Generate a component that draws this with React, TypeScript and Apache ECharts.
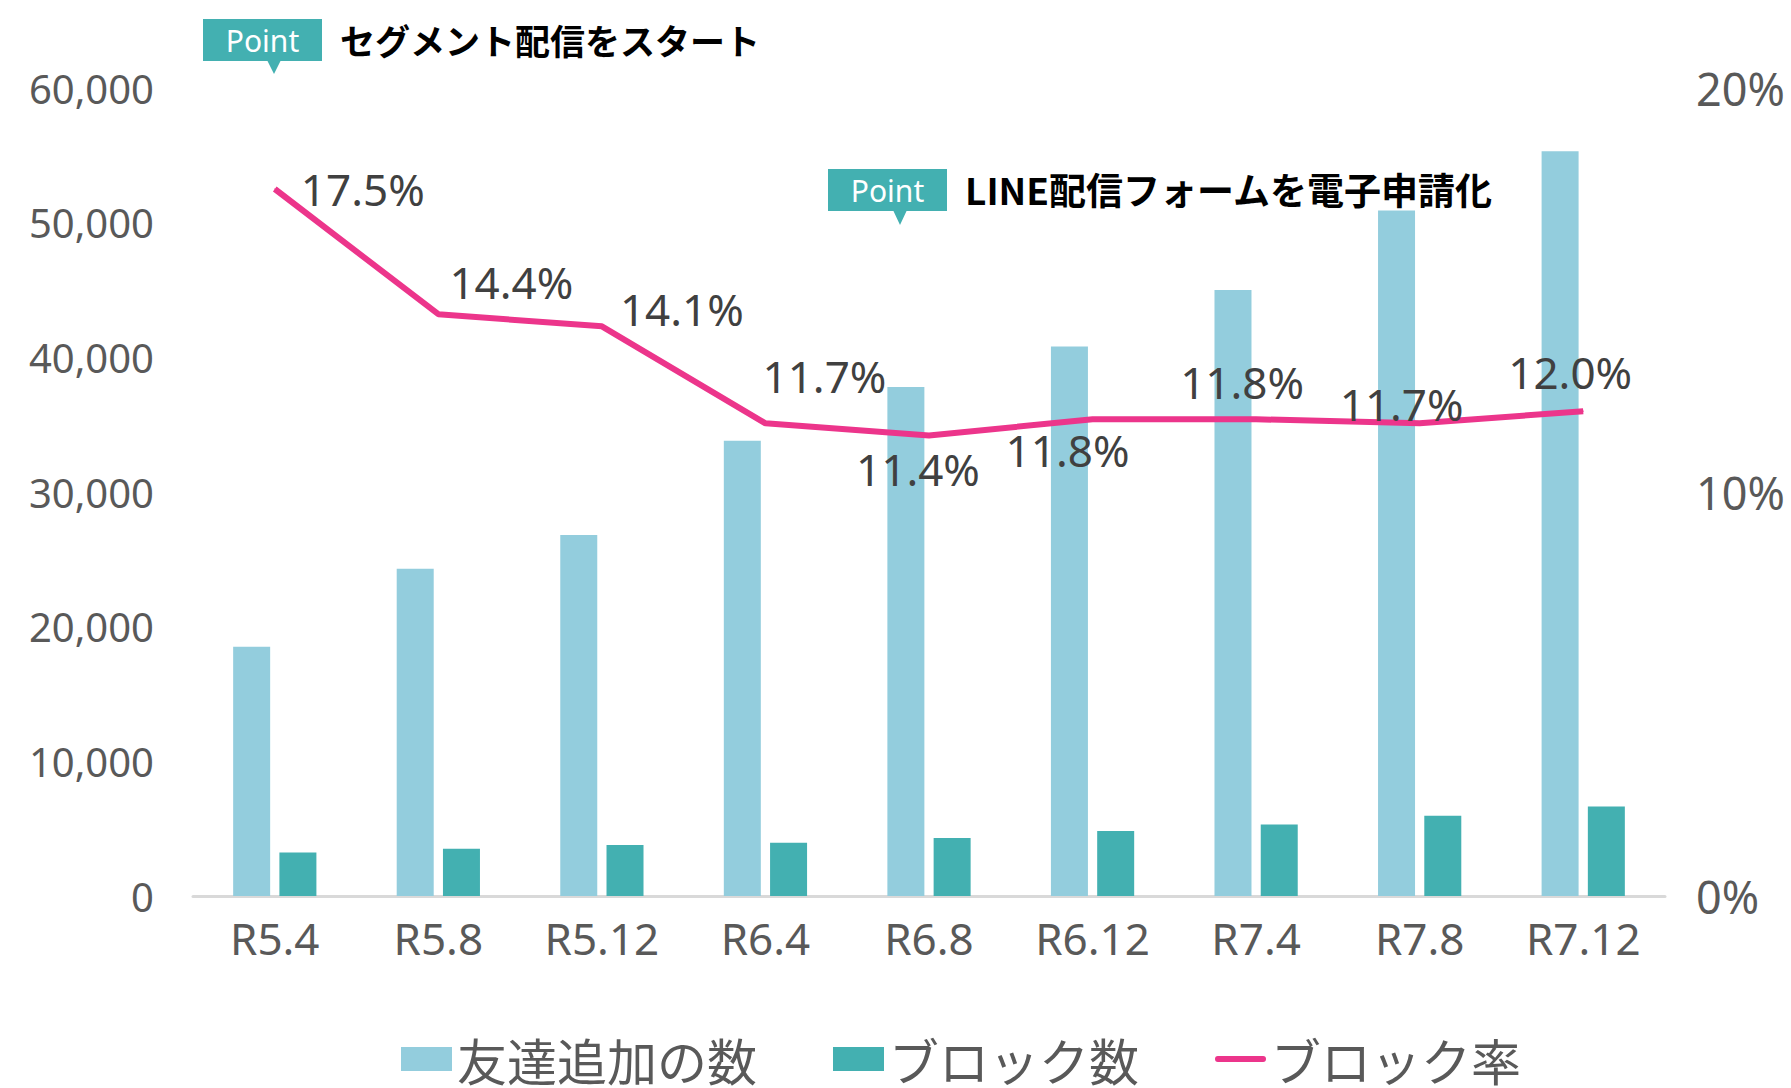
import React, { useEffect, useRef } from "react";
import * as echarts from "echarts";

const categories = ["R5.4", "R5.8", "R5.12", "R6.4", "R6.8", "R6.12", "R7.4", "R7.8", "R7.12"];
const friendsAdded = [18500, 24300, 26800, 33800, 37800, 40800, 45000, 50900, 55300];
const blocks = [3230, 3500, 3780, 3950, 4310, 4820, 5310, 5960, 6640];
const blockRate = [17.5, 14.4, 14.1, 11.7, 11.4, 11.8, 11.8, 11.7, 12.0];
const leftTicks = { min: 0, max: 60000, interval: 10000 };
const rightTicks = { min: 0, max: 20, interval: 10 };
const seriesNames = ["友達追加の数", "ブロック数", "ブロック率"];
const notes = ["セグメント配信をスタート", "LINE配信フォームを電子申請化"];

// label offsets (px) of the rate labels relative to each point
const rateLabelOffsets: [number, number][] = [
  [88, 0], [73, -32], [80, -17], [59, -47], [-11, 34], [-25, 31], [-14, -37], [-18, -19], [-13, -39],
];

const LIGHT = "#93CDDD";
const TEAL = "#43B0B1";
const PINK = "#EC358B";

function callout(x: number, y: number, tipX: number, tipY: number, title: string, size: number) {
  const w = 119, h = 42;
  return [
    { type: "rect", shape: { x, y, width: w, height: h }, style: { fill: TEAL } },
    {
      type: "polygon",
      shape: { points: [[tipX - 7, y + h - 1], [tipX + 7, y + h - 1], [tipX, tipY]] },
      style: { fill: TEAL },
    },
    {
      type: "text",
      x: x + w / 2,
      y: y + h / 2,
      style: {
        text: "Point", fill: "#fff", font: "30px 'Noto Sans'", align: "center", verticalAlign: "middle",
      },
    },
    {
      type: "text",
      x: x + w + 18,
      y: y + h / 2 - 1,
      style: {
        text: title, fill: "#000", font: `bold ${size}px 'Noto Sans CJK JP'`, align: "left", verticalAlign: "middle",
      },
    },
  ];
}

export default function App() {
  const ref = useRef<HTMLDivElement>(null);
  useEffect(() => {
    document.body.style.margin = "0";
    const chart = echarts.init(ref.current!, undefined, { renderer: "svg" });
    chart.setOption({
      animation: false,
      backgroundColor: "#fff",
      grid: { left: 193, right: 126, top: 88, bottom: 192, containLabel: false },
      legend: {
        left: 396,
        top: 1029,
        itemWidth: 51,
        itemHeight: 24,
        itemGap: 76,
        textStyle: { fontSize: 50, lineHeight: 50, color: "#595959", fontFamily: "'Noto Sans CJK JP'" },
        data: [
          { name: seriesNames[0], icon: "rect" },
          { name: seriesNames[1], icon: "rect" },
          { name: seriesNames[2], icon: "path://M3,0 L50,0 A3,3 0 0 1 50,6 L3,6 A3,3 0 0 1 3,0 Z", itemStyle: { color: PINK } },
        ],
      },
      xAxis: {
        type: "category",
        data: categories,
        axisTick: { show: false },
        axisLine: { lineStyle: { color: "#D9D9D9", width: 3 } },
        axisLabel: { color: "#595959", fontSize: 44, margin: 20, fontFamily: "'Noto Sans'" },
      },
      yAxis: [
        {
          type: "value",
          ...leftTicks,
          splitLine: { show: false },
          axisLine: { show: false },
          axisLabel: {
            color: "#595959", fontSize: 40, margin: 39, fontFamily: "'Noto Sans'",
            formatter: (v: number) => v.toLocaleString("en-US"),
          },
        },
        {
          type: "value",
          ...rightTicks,
          position: "right",
          splitLine: { show: false },
          axisLine: { show: false },
          axisLabel: { color: "#595959", fontSize: 45, margin: 31, fontFamily: "'Noto Sans'", formatter: "{value}%" },
        },
      ],
      series: [
        {
          name: seriesNames[0], type: "bar", data: friendsAdded, barWidth: 37, barGap: "25%",
          itemStyle: { color: LIGHT },
        },
        {
          name: seriesNames[1], type: "bar", data: blocks, barWidth: 37,
          itemStyle: { color: TEAL },
        },
        {
          name: seriesNames[2], type: "line", yAxisIndex: 1,
          data: blockRate.map((v, i) => ({ value: v, label: { offset: rateLabelOffsets[i] } })),
          symbol: "circle", symbolSize: 1,
          lineStyle: { color: PINK, width: 6 },
          itemStyle: { color: PINK },
          label: {
            show: true, position: "inside", align: "center", verticalAlign: "middle",
            color: "#404040", fontSize: 44, fontFamily: "'Noto Sans'",
            formatter: (p: any) => p.value.toFixed(1) + "%",
          },
          z: 5,
        },
      ],
      graphic: [
        ...callout(203, 19, 274, 74, notes[0], 35),
        ...callout(828, 169, 900, 225, notes[1], 37),
      ],
    });
    return () => chart.dispose();
  }, []);
  return <div ref={ref} style={{ width: 1791, height: 1088 }} />;
}
